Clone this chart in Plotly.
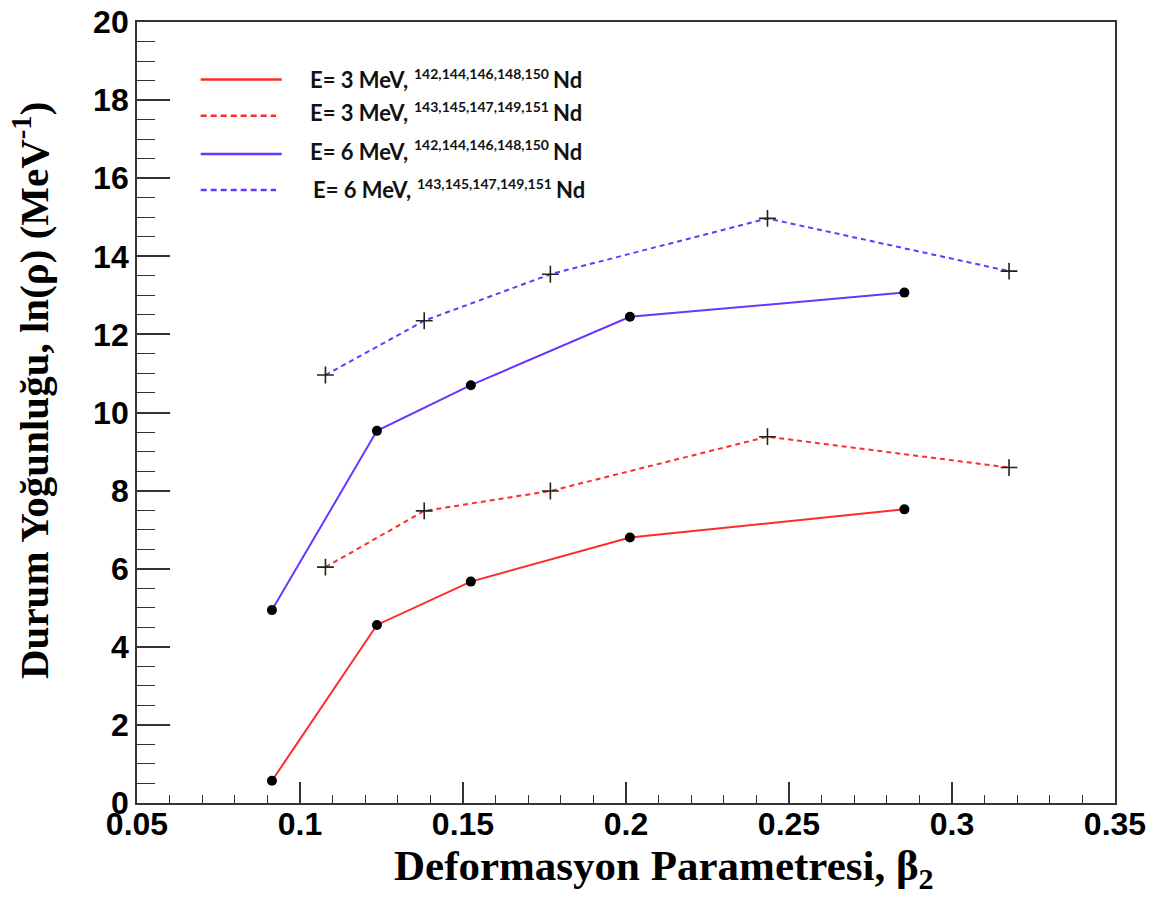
import plotly.graph_objects as go

# ---- data ----
beta_even = [0.0914, 0.1236, 0.1524, 0.2012, 0.2854]   # 142,144,146,148,150Nd
beta_odd = [0.1078, 0.1381, 0.1768, 0.2434, 0.3175]    # 143,145,147,149,151Nd
e3_even = [0.57, 4.56, 5.67, 6.80, 7.52]
e3_odd = [6.04, 7.48, 7.99, 9.38, 8.59]
e6_even = [4.94, 9.53, 10.70, 12.45, 13.07]
e6_odd = [10.96, 12.35, 13.54, 14.97, 13.62]

x_tickvals = [0.05, 0.1, 0.15, 0.2, 0.25, 0.3, 0.35]
x_ticktext = ["0.05", "0.1", "0.15", "0.2", "0.25", "0.3", "0.35"]
y_tickvals = [0, 2, 4, 6, 8, 10, 12, 14, 16, 18, 20]

legend_labels = ["E= 3 MeV,", "E= 3 MeV,", "E= 6 MeV,", "E= 6 MeV,"]
legend_isotopes = ["142,144,146,148,150", "143,145,147,149,151",
                   "142,144,146,148,150", "143,145,147,149,151"]

RED = "#ff2b2b"
BLUE = "#6a35ff"

# page body has an 8px margin; compensate so the plot lands where the reference has it
OFF = 8
W, H = 1169 - 2 * OFF, 905 - 2 * OFF
PL, PT, PR, PB = 137, 22, 1115, 803          # plot frame in screen pixels
L, T = PL - OFF, PT - OFF
PW, PH = PR - PL, PB - PT
R, B = W - L - PW, H - T - PH


def px(xs):
    return (xs - PL) / PW


def py(ys):
    return (PB - ys) / PH


fig = go.Figure()

series = [
    (beta_even, e3_even, RED, "solid", "circle"),
    (beta_odd, e3_odd, RED, "5px,4px", "cross-thin"),
    (beta_even, e6_even, BLUE, "solid", "circle"),
    (beta_odd, e6_odd, BLUE, "5px,4px", "cross-thin"),
]
for xs, ys, col, dash, sym in series:
    fig.add_trace(go.Scatter(
        x=xs, y=ys, mode="lines",
        line=dict(color=col, width=2, dash=dash),
        showlegend=False, hoverinfo="skip"))
for xs, ys, col, dash, sym in series:
    if sym == "circle":
        mk = dict(symbol="circle", size=10, color="black")
    else:
        mk = dict(symbol="cross-thin", size=12, color="black",
                  line=dict(color="#222222", width=1.6))
    fig.add_trace(go.Scatter(
        x=xs, y=ys, mode="markers", marker=mk,
        showlegend=False))

# ---- manual legend ----
legend_rows_y = [79.5, 115.7, 154, 190]
legend_text_y = [79.5, 112.5, 151, 189]
legend_text_x = [308, 308, 308, 311]
legend_styles = [(RED, "solid", 281.7), (RED, "dash", 276),
                 (BLUE, "solid", 281.7), (BLUE, "dash", 276)]
LEGFONT = "Lato, Open Sans, sans-serif"
shapes = []
annotations = []
for i, (col, dsh, xend) in enumerate(legend_styles):
    shapes.append(dict(
        type="line", xref="paper", yref="paper",
        x0=px(200.7), x1=px(xend), y0=py(legend_rows_y[i]), y1=py(legend_rows_y[i]),
        line=dict(color=col, width=2.6,
                  dash="solid" if dsh == "solid" else "6px,4px")))
    tx = legend_text_x[i]
    ty = legend_text_y[i]
    annotations.append(dict(
        xref="paper", yref="paper", x=px(tx), y=py(ty),
        xanchor="left", yanchor="middle", showarrow=False,
        text=legend_labels[i],
        font=dict(family=LEGFONT, size=22, color="#111111", weight="bold")))
    annotations.append(dict(
        xref="paper", yref="paper", x=px(tx + 104), y=py(ty - 6),
        xanchor="left", yanchor="middle", showarrow=False,
        text=legend_isotopes[i],
        font=dict(family=LEGFONT, size=14, color="#111111", weight="bold")))
    annotations.append(dict(
        xref="paper", yref="paper", x=px(tx + 243), y=py(ty),
        xanchor="left", yanchor="middle", showarrow=False,
        text="Nd",
        font=dict(family=LEGFONT, size=22, color="#111111", weight="bold")))

# ---- axis titles ----
annotations.append(dict(
    xref="paper", yref="paper", x=px(664), y=py(869),
    xanchor="center", yanchor="middle", showarrow=False,
    text="Deformasyon Parametresi, β<sub>2</sub>",
    font=dict(family="Liberation Serif, Times New Roman, serif", size=43,
              color="black", weight="bold")))
annotations.append(dict(
    xref="paper", yref="paper", x=px(31), y=py(391),
    xanchor="center", yanchor="middle", showarrow=False, textangle=-90,
    text="Durum Yoğunluğu, ln(ρ) (MeV<sup>-1</sup>)",
    font=dict(family="Liberation Serif, Times New Roman, serif", size=41,
              color="black", weight="bold")))

tickfont = dict(family="Liberation Sans, Arial, sans-serif", size=32,
                color="black", weight="bold")

fig.update_layout(
    width=W, height=H,
    margin=dict(l=L, r=R, t=T, b=B, autoexpand=False),
    paper_bgcolor="white", plot_bgcolor="white",
    shapes=shapes, annotations=annotations,
    showlegend=False,
    xaxis=dict(
        range=[0.05, 0.35], tickvals=x_tickvals, ticktext=x_ticktext,
        ticks="inside", ticklen=21, tickwidth=1.5, tickcolor="#333333",
        ticklabelstandoff=-8, ticklabeloverflow="allow",
        minor=dict(dtick=0.01, ticks="inside", ticklen=8, tickwidth=1.3,
                   tickcolor="#333333", showgrid=False),
        showline=True, linecolor="#333333", linewidth=1.8, mirror=True,
        showgrid=False, zeroline=False, tickfont=tickfont),
    yaxis=dict(
        range=[0, 20], tickvals=y_tickvals,
        ticks="inside", ticklen=33, tickwidth=1.5, tickcolor="#333333",
        ticklabeloverflow="allow",
        minor=dict(dtick=0.5, ticks="inside", ticklen=18, tickwidth=1.3,
                   tickcolor="#333333", showgrid=False),
        showline=True, linecolor="#333333", linewidth=1.8, mirror=True,
        showgrid=False, zeroline=False, tickfont=tickfont),
)

fig.write_html("out.html")
